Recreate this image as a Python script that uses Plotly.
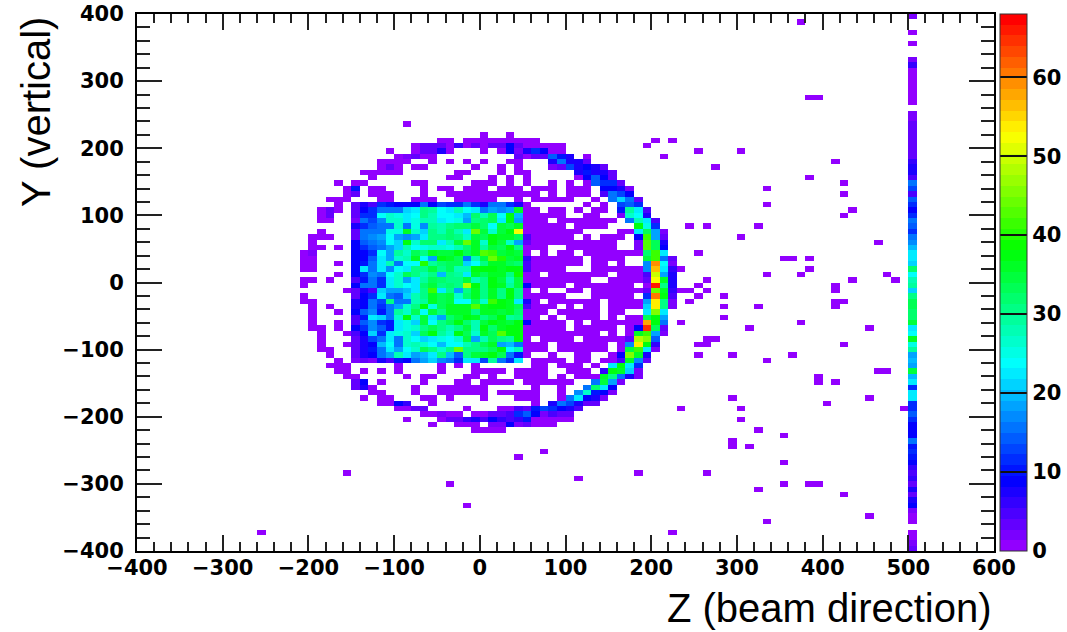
import colorsys
import plotly.graph_objects as go

# Histogram binning: 100 bins in Z (10 wide from -400), 100 bins in Y (8 wide, row 0 is the top)
N_BINS = 100
Z_START, Z_WIDTH = -400, 10
Y_TOP, Y_WIDTH = 400, 8
Z_MAX_COUNT = 68
TICKS_MAJOR = [-400, -300, -200, -100, 0, 100, 200, 300, 400, 500, 600]
COLORBAR_TICKS = [0, 10, 20, 30, 40, 50, 60]
X_TITLE = "Z (beam direction)"
Y_TITLE = "Y (vertical)"

# Single-count cells: row -> inclusive runs of Z bins
single_count_runs = {
    1: [(77, 77)], 15: [(78, 79)],
    20: [(31, 31)], 22: [(40, 40), (43, 43)],
    23: [(35, 36), (38, 46), (60, 60), (62, 62)],
    24: [(32, 49), (59, 59)],
    25: [(29, 29), (32, 36), (40, 40), (42, 49), (65, 65), (70, 70)],
    26: [(30, 34), (44, 50), (52, 52), (61, 61)],
    27: [(28, 31), (34, 34), (36, 36), (38, 38), (40, 40), (43, 44), (48, 52), (81, 81)],
    28: [(28, 30), (32, 33), (39, 39), (42, 42), (44, 44), (48, 54), (67, 67)],
    29: [(26, 30), (37, 38), (42, 42), (44, 45), (51, 55)],
    30: [(27, 27), (36, 37), (41, 41), (43, 43), (45, 45), (51, 55), (78, 78)],
    31: [(23, 23), (25, 26), (32, 33), (39, 41), (43, 43), (45, 45), (48, 48), (50, 50), (52, 56), (82, 82)],
    32: [(24, 25), (27, 28), (33, 33), (35, 36), (38, 40), (42, 44), (46, 48), (50, 52), (54, 57), (73, 73)],
    33: [(24, 25), (27, 29), (33, 33), (36, 46), (48, 48), (50, 52), (54, 57), (82, 82)],
    34: [(22, 24), (28, 29), (32, 34), (37, 41), (44, 44), (46, 50), (53, 53), (55, 58)],
    35: [(23, 23), (45, 45), (52, 52), (54, 54), (56, 58), (73, 73)],
    36: [(21, 23), (45, 46), (48, 49), (51, 51), (53, 54), (56, 59), (83, 83)],
    37: [(21, 22), (45, 49), (52, 53), (56, 58), (82, 82)],
    38: [(21, 22), (45, 47), (49, 55), (57, 60)],
    39: [(45, 49), (51, 54), (58, 60), (64, 64), (66, 66), (72, 72)],
    40: [(21, 21), (45, 51), (56, 61)],
    41: [(20, 22), (45, 50), (52, 52), (54, 56), (58, 61), (70, 70)],
    42: [(20, 20), (45, 55), (58, 61), (86, 86)],
    43: [(20, 21), (23, 23), (45, 47), (50, 55), (58, 61)],
    44: [(19, 20), (45, 45), (47, 47), (49, 50), (52, 61), (65, 65)],
    45: [(19, 20), (45, 51), (53, 56), (59, 62), (75, 76), (78, 78)],
    46: [(19, 20), (23, 23), (45, 51), (53, 54), (56, 56), (59, 62)],
    47: [(19, 20), (45, 49), (53, 63), (78, 78)],
    48: [(23, 23), (45, 46), (48, 54), (56, 62), (73, 73), (77, 77), (87, 87)],
    49: [(19, 20), (22, 22), (45, 52), (55, 62), (66, 66), (83, 83), (88, 88)],
    50: [(19, 19), (45, 49), (51, 57), (59, 62), (65, 65), (81, 81)],
    51: [(24, 24), (45, 45), (47, 47), (50, 51), (53, 64), (66, 66), (81, 81)],
    52: [(19, 19), (45, 49), (53, 57), (59, 62), (65, 65), (68, 68)],
    53: [(19, 20), (45, 46), (48, 53), (55, 62), (64, 64), (81, 82)],
    54: [(20, 20), (22, 22), (45, 48), (50, 50), (52, 53), (55, 62), (68, 68), (72, 72), (81, 81)],
    55: [(20, 20), (23, 23), (45, 47), (49, 53), (55, 56), (59, 61)],
    56: [(20, 20), (45, 46), (48, 48), (50, 53), (55, 55), (57, 61), (68, 68)],
    57: [(20, 20), (23, 23), (45, 49), (51, 51), (53, 61), (63, 63), (77, 77)],
    58: [(20, 21), (23, 23), (45, 49), (51, 55), (57, 61), (71, 71), (85, 85)],
    59: [(21, 21), (24, 24), (45, 53), (55, 55), (57, 61)],
    60: [(21, 21), (45, 45), (47, 50), (52, 57), (66, 67)],
    61: [(21, 21), (24, 24), (45, 47), (49, 54), (56, 57), (65, 66), (82, 82)],
    62: [(21, 22), (45, 47), (49, 54), (56, 56)],
    63: [(22, 22), (45, 45), (48, 48), (51, 52), (55, 55), (65, 65), (69, 69), (76, 76)],
    64: [(23, 23), (46, 49), (51, 52), (54, 55), (73, 73)],
    65: [(22, 24), (30, 30), (35, 35), (37, 37), (39, 39), (46, 47), (49, 51), (53, 53)],
    66: [(23, 24), (26, 26), (28, 28), (30, 30), (35, 35), (39, 42), (44, 47), (50, 52), (86, 87)],
    67: [(24, 25), (31, 31), (33, 34), (38, 39), (41, 41), (44, 47), (49, 49), (51, 52), (79, 79)],
    68: [(25, 26), (28, 28), (33, 33), (37, 38), (40, 43), (45, 50), (79, 79), (81, 81)],
    69: [(25, 27), (32, 32), (35, 40), (46, 46), (49, 49)],
    70: [(27, 28), (32, 32), (35, 40), (42, 46), (49, 49)],
    71: [(26, 26), (28, 29), (33, 34), (36, 36), (40, 40), (44, 46), (49, 49), (69, 69), (85, 85)],
    72: [(28, 31), (34, 34), (46, 46), (80, 80)],
    73: [(30, 33), (38, 38), (42, 45), (63, 63), (70, 70), (89, 89)],
    74: [(33, 37), (39, 45)],
    75: [(31, 31), (35, 50), (70, 70)],
    76: [(34, 34), (37, 39), (41, 48)],
    77: [(39, 42), (72, 72)],
    78: [(75, 75)],
    79: [(69, 69)],
    80: [(69, 69), (71, 71)],
    81: [(47, 47)],
    82: [(44, 44)],
    83: [(75, 75)],
    85: [(24, 24), (58, 58), (66, 66)],
    86: [(51, 51)],
    87: [(36, 36), (75, 75), (78, 79)],
    88: [(72, 72)],
    89: [(82, 82)],
    91: [(38, 38)],
    93: [(85, 85)],
    94: [(73, 73)],
    96: [(14, 14), (62, 62)],
}

# Higher-count cells along the shell: row -> {Z bin: count}
shell_counts = {
    24: {33: 3, 34: 3, 35: 4, 37: 6, 39: 3, 41: 4, 42: 4, 43: 9, 44: 4},
    25: {33: 3, 34: 3, 35: 8, 43: 9, 44: 2, 45: 8, 46: 11, 47: 9},
    26: {31: 2, 32: 3, 44: 3, 46: 4, 47: 4, 48: 14, 49: 10, 50: 7},
    27: {48: 8, 49: 15, 50: 8, 51: 7, 52: 3},
    28: {29: 4, 48: 2, 49: 4, 50: 13, 51: 8, 52: 9, 53: 8, 54: 3},
    29: {51: 8, 52: 10, 53: 8, 54: 8, 55: 4},
    30: {52: 9, 53: 14, 54: 9, 55: 4},
    31: {53: 14, 54: 11, 55: 11, 56: 3},
    32: {25: 10, 54: 9, 55: 9, 56: 8, 57: 2},
    33: {25: 3, 54: 5, 55: 16, 56: 13, 57: 9},
    34: {55: 15, 56: 21, 57: 16, 58: 4},
    35: {56: 13, 57: 14, 58: 12},
    36: {22: 3, 56: 10, 57: 29, 58: 22, 59: 5},
    37: {22: 3, 56: 2, 57: 27, 58: 24, 59: 8},
    38: {57: 16, 58: 28, 59: 23, 60: 5},
    39: {58: 38, 59: 25, 60: 11},
    40: {58: 22, 59: 33, 60: 18, 61: 2},
    41: {45: 5, 58: 9, 59: 42, 60: 19, 61: 3},
    42: {45: 4, 58: 2, 59: 43, 60: 33, 61: 8},
    43: {58: 2, 59: 43, 60: 33, 61: 9},
    44: {20: 2, 59: 32, 60: 41, 61: 23},
    45: {45: 6, 59: 34, 60: 41, 61: 15, 62: 3},
    46: {45: 5, 59: 17, 60: 59, 61: 24, 62: 2},
    47: {45: 5, 59: 17, 60: 57, 61: 22, 62: 6, 63: 1},
    48: {59: 5, 60: 50, 61: 18, 62: 8},
    49: {59: 3, 60: 52, 61: 36, 62: 7},
    50: {45: 9, 59: 1, 60: 66, 61: 30, 62: 8},
    51: {59: 3, 60: 44, 61: 36, 62: 6},
    52: {59: 12, 60: 60, 61: 37, 62: 5},
    53: {45: 8, 59: 19, 60: 54, 61: 31, 62: 2},
    54: {45: 5, 59: 21, 60: 54, 61: 30, 62: 2},
    55: {59: 22, 60: 45, 61: 23},
    56: {59: 33, 60: 37, 61: 19},
    57: {45: 9, 59: 58, 60: 38, 61: 15},
    58: {58: 9, 59: 64, 60: 33, 61: 4},
    59: {58: 36, 59: 42, 60: 18, 61: 2},
    60: {57: 3, 58: 48, 59: 46, 60: 14},
    61: {57: 17, 58: 54, 59: 37, 60: 6},
    62: {57: 35, 58: 41, 59: 22, 60: 2},
    63: {56: 9, 57: 46, 58: 36, 59: 8},
    64: {56: 5, 57: 36, 58: 17, 59: 3},
    65: {55: 22, 56: 37, 57: 23, 58: 12},
    66: {54: 6, 55: 37, 56: 36, 57: 21, 58: 2},
    67: {53: 1, 54: 36, 55: 31, 56: 16, 57: 8, 58: 2},
    68: {25: 4, 26: 9, 53: 15, 54: 35, 55: 18, 56: 2},
    69: {25: 3, 26: 8, 52: 15, 53: 32, 54: 23, 55: 9},
    70: {51: 17, 52: 26, 53: 10, 54: 9, 55: 2},
    71: {50: 16, 51: 23, 52: 9, 53: 8, 54: 2},
    72: {30: 9, 31: 6, 48: 7, 49: 15, 50: 13, 51: 8, 52: 4, 53: 4},
    73: {32: 4, 33: 3, 44: 5, 45: 3, 46: 10, 47: 13, 48: 12, 49: 9, 50: 8, 51: 5},
    74: {35: 2, 41: 3, 42: 4, 43: 5, 44: 12, 45: 14, 46: 9, 47: 2, 48: 5, 49: 3, 50: 3},
    75: {36: 3, 37: 4, 38: 6, 39: 7, 40: 5, 41: 9, 42: 6, 43: 5, 44: 6, 45: 10},
    76: {41: 2, 42: 2, 43: 9, 44: 2, 45: 3},
}

# Dense block: rows 35-64, Z bins 25-44
BLOCK_FIRST_ROW = 35
BLOCK_FIRST_BIN = 25
block_counts = [
    [4, 8, 5, 12, 10, 9, 9, 9, 15, 9, 13, 12, 12, 15, 12, 8, 16, 15, 12, 7],
    [4, 9, 12, 16, 15, 15, 21, 23, 30, 29, 24, 23, 28, 24, 23, 15, 18, 17, 19, 36],
    [4, 11, 12, 24, 26, 25, 23, 24, 30, 28, 24, 24, 22, 20, 32, 28, 33, 24, 37, 20],
    [2, 16, 13, 17, 26, 26, 23, 25, 28, 28, 23, 24, 25, 18, 31, 32, 33, 22, 38, 18],
    [7, 12, 14, 15, 16, 26, 16, 25, 17, 29, 28, 30, 32, 32, 35, 32, 24, 35, 33, 36],
    [3, 15, 15, 16, 25, 25, 36, 26, 21, 31, 28, 32, 28, 23, 44, 34, 27, 34, 37, 53],
    [4, 16, 17, 19, 24, 19, 17, 18, 22, 30, 30, 32, 30, 27, 34, 33, 37, 36, 36, 33],
    [9, 14, 16, 17, 24, 21, 37, 27, 32, 32, 23, 28, 34, 44, 36, 27, 37, 34, 26, 18],
    [9, 11, 14, 16, 19, 21, 28, 24, 25, 26, 26, 25, 28, 32, 36, 29, 35, 33, 37, 31],
    [9, 9, 12, 24, 18, 29, 27, 33, 31, 36, 35, 34, 38, 33, 36, 43, 42, 35, 36, 35],
    [9, 9, 14, 22, 18, 26, 28, 36, 24, 19, 37, 36, 33, 16, 28, 34, 44, 40, 35, 36],
    [9, 10, 15, 22, 28, 15, 24, 24, 40, 29, 32, 33, 33, 21, 24, 31, 36, 36, 33, 32],
    [9, 22, 16, 22, 17, 24, 23, 30, 30, 34, 31, 33, 28, 28, 37, 37, 37, 36, 37, 37],
    [9, 11, 17, 15, 24, 27, 33, 30, 28, 30, 20, 30, 29, 23, 36, 33, 36, 36, 31, 39],
    [5, 10, 16, 12, 23, 27, 19, 22, 29, 33, 32, 30, 31, 35, 28, 30, 37, 34, 28, 35],
    [9, 15, 16, 12, 23, 27, 24, 23, 32, 35, 31, 32, 30, 48, 37, 30, 37, 36, 29, 34],
    [4, 8, 5, 21, 19, 19, 20, 23, 31, 42, 23, 30, 19, 30, 36, 31, 36, 30, 37, 31],
    [3, 9, 12, 22, 16, 14, 21, 28, 31, 36, 33, 35, 27, 32, 36, 30, 36, 31, 37, 30],
    [8, 9, 15, 13, 30, 16, 16, 28, 29, 36, 33, 35, 24, 24, 33, 27, 42, 37, 36, 22],
    [8, 9, 15, 11, 15, 18, 26, 30, 37, 25, 33, 36, 36, 36, 43, 36, 37, 38, 36, 33],
    [9, 14, 17, 10, 16, 29, 27, 33, 24, 35, 31, 36, 36, 36, 31, 36, 36, 35, 36, 32],
    [5, 10, 22, 21, 16, 26, 37, 27, 34, 22, 19, 32, 34, 37, 36, 30, 33, 38, 29, 30],
    [5, 14, 17, 12, 10, 22, 25, 21, 34, 24, 31, 33, 38, 32, 28, 34, 37, 36, 35, 37],
    [9, 12, 17, 14, 10, 22, 25, 26, 31, 33, 30, 28, 30, 35, 28, 37, 32, 36, 37, 38],
    [5, 9, 21, 11, 22, 25, 27, 21, 33, 37, 29, 26, 38, 33, 27, 36, 33, 43, 38, 38],
    [3, 8, 13, 16, 23, 15, 26, 24, 21, 22, 25, 24, 27, 35, 19, 28, 33, 31, 29, 38],
    [3, 8, 9, 20, 24, 16, 26, 28, 26, 24, 20, 24, 24, 28, 31, 33, 36, 19, 20, 16],
    [4, 7, 10, 16, 23, 18, 24, 27, 33, 31, 27, 30, 44, 30, 30, 31, 33, 37, 24, 28],
    [4, 7, 9, 16, 19, 28, 23, 18, 20, 23, 30, 20, 14, 31, 34, 36, 38, 33, 16, 10],
    [2, 4, 2, 8, 5, 10, 9, 15, 18, 21, 17, 15, 12, 23, 22, 13, 29, 16, 12, 23],
]

# The Z = 500-510 column, row by row from the top (0 = empty)
EXIT_BIN = 90
exit_column_counts = [
    2, 0, 0, 1, 0, 1, 0, 0, 2, 6, 1, 1, 1, 1, 1, 1, 1, 0, 2, 2,
    4, 3, 3, 4, 3, 4, 3, 6, 8, 8, 5, 15, 13, 5, 14, 12, 9, 12, 16, 14,
    11, 15, 17, 20, 23, 23, 21, 32, 24, 28, 29, 21, 31, 33, 33, 32, 32, 35, 23, 24,
    36, 25, 29, 18, 20, 18, 34, 20, 23, 12, 23, 23, 11, 11, 14, 11, 9, 9, 9, 15,
    10, 12, 10, 9, 6, 5, 6, 3, 7, 3, 8, 9, 2, 1, 1, 0, 1, 1, 2, 3,
]

# Assemble the histogram
grid = [[None] * N_BINS for _ in range(N_BINS)]
for row, runs in single_count_runs.items():
    for first, last in runs:
        for b in range(first, last + 1):
            grid[row][b] = 1
for row, cells in shell_counts.items():
    for b, count in cells.items():
        grid[row][b] = count
for r, values in enumerate(block_counts):
    for b, count in enumerate(values):
        grid[BLOCK_FIRST_ROW + r][BLOCK_FIRST_BIN + b] = count
for row, count in enumerate(exit_column_counts):
    if count:
        grid[row][EXIT_BIN] = count

# ROOT's rainbow palette: 50 flat bands, hue 280 down to 0
N_BANDS = 50
colorscale = []
for k in range(N_BANDS):
    hue = (280 - (k + 1) * 280 / N_BANDS) / 360
    r, g, b = colorsys.hls_to_rgb(hue, 0.5, 1.0)
    color = f"rgb({round(r * 255)},{round(g * 255)},{round(b * 255)})"
    colorscale.append([k / N_BANDS, color])
    colorscale.append([(k + 1) / N_BANDS, color])

TICK_FONT = dict(family="DejaVu Sans", size=21, color="black", weight="bold")
TITLE_FONT = dict(family="Liberation Sans", size=40, color="black")

fig = go.Figure(go.Heatmap(
    z=grid,
    x0=Z_START + Z_WIDTH / 2, dx=Z_WIDTH,
    y0=Y_TOP - Y_WIDTH / 2, dy=-Y_WIDTH,
    zmin=0, zmax=Z_MAX_COUNT,
    colorscale=colorscale,
    hoverongaps=False,
    colorbar=dict(
        x=1.0072, xanchor="left", xpad=0, y=0.5, yanchor="middle", ypad=0,
        len=1, lenmode="fraction", thickness=27, thicknessmode="pixels",
        outlinecolor="#333333", outlinewidth=1,
        ticks="inside", ticklen=27, tickwidth=1.5, tickcolor="#111111",
        tickmode="array", tickvals=COLORBAR_TICKS, ticktext=[str(v) for v in COLORBAR_TICKS],
        tickfont=TICK_FONT,
    ),
))

axis_common = dict(
    tickmode="array", tickvals=TICKS_MAJOR,
    ticks="inside", tickwidth=1.5, tickcolor="#222222",
    showline=True, linecolor="black", linewidth=2, mirror="ticks",
    showgrid=False, zeroline=False, tickfont=TICK_FONT,
)
fig.update_layout(
    width=1067, height=632, autosize=False,
    margin=dict(l=137.3, r=73, t=13.5, b=80.7, pad=0, autoexpand=False),
    paper_bgcolor="white", plot_bgcolor="white",
    xaxis=dict(range=[-400, 600], ticklen=16, ticklabelstandoff=-3,
               minor=dict(ticks="inside", ticklen=9, dtick=20, tick0=0, tickwidth=1.5, tickcolor="#222222", showgrid=False),
               **axis_common),
    yaxis=dict(range=[-400, 400], ticklen=25, ticklabelstandoff=7,
               minor=dict(ticks="inside", ticklen=13, dtick=20, tick0=0, tickwidth=1.5, tickcolor="#222222", showgrid=False),
               **axis_common),
    annotations=[
        dict(text=X_TITLE, xref="paper", yref="paper", x=1.0, y=-0.106,
             xanchor="right", yanchor="middle", showarrow=False, font=TITLE_FONT),
        dict(text=Y_TITLE, xref="paper", yref="paper", x=-0.117, y=0.817, textangle=-90,
             xanchor="center", yanchor="middle", showarrow=False, font=TITLE_FONT),
    ],
)

fig.write_html("out.html", config={"displayModeBar": False},
               post_script="document.body.style.margin='0';")
